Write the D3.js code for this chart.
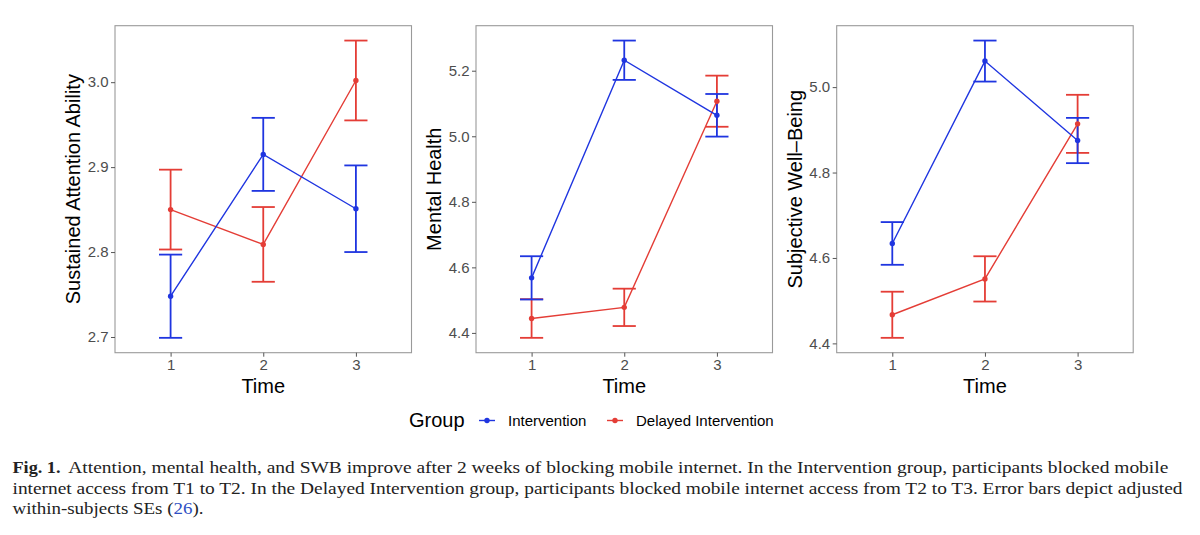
<!DOCTYPE html>
<html lang="en">
<head>
    <meta charset="UTF-8" />
    <title>Fig. 1. Attention, mental health, and SWB</title>
    <script src="https://d3js.org/d3.v7.min.js"></script>
    <style>
        body { margin: 0; background: #fff; }
    </style>
</head>
<body>
    <div id="container"></div>

    <script>
        // data (means and within-subject SEs)
        const times = [1, 2, 3]
        const groups = ["Intervention", "Delayed Intervention"]
        const panelTitles = ["Sustained Attention Ability", "Mental Health", "Subjective Well\u2013Being"]

        const attentionIntervention = [2.748, 2.915, 2.851]
        const attentionInterventionSE = [0.049, 0.043, 0.051]
        const attentionDelayed = [2.850, 2.809, 3.002]
        const attentionDelayedSE = [0.047, 0.044, 0.047]

        const mentalIntervention = [4.568, 5.232, 5.064]
        const mentalInterventionSE = [0.066, 0.060, 0.065]
        const mentalDelayed = [4.444, 4.478, 5.107]
        const mentalDelayedSE = [0.059, 0.057, 0.078]

        const swbIntervention = [4.634, 5.061, 4.875]
        const swbInterventionSE = [0.050, 0.048, 0.053]
        const swbDelayed = [4.467, 4.551, 4.914]
        const swbDelayedSE = [0.054, 0.053, 0.068]

        const attentionTicks = [2.7, 2.8, 2.9, 3.0]
        const mentalTicks = [4.4, 4.6, 4.8, 5.0, 5.2]
        const swbTicks = [4.4, 4.6, 4.8, 5.0]

        const captionLines = [
            "Attention, mental health, and SWB improve after 2 weeks of blocking mobile internet. In the Intervention group, participants blocked mobile",
            "internet access from T1 to T2. In the Delayed Intervention group, participants blocked mobile internet access from T2 to T3. Error bars depict adjusted"
        ]

        const colors = { "Intervention": "#1f35e0", "Delayed Intervention": "#e43d36" }

        const panels = [
            { title: panelTitles[0], ticks: attentionTicks,
              series: [{ g: groups[0], m: attentionIntervention, se: attentionInterventionSE },
                       { g: groups[1], m: attentionDelayed, se: attentionDelayedSE }] },
            { title: panelTitles[1], ticks: mentalTicks,
              series: [{ g: groups[0], m: mentalIntervention, se: mentalInterventionSE },
                       { g: groups[1], m: mentalDelayed, se: mentalDelayedSE }] },
            { title: panelTitles[2], ticks: swbTicks,
              series: [{ g: groups[0], m: swbIntervention, se: swbInterventionSE },
                       { g: groups[1], m: swbDelayed, se: swbDelayedSE }] }
        ]

        const width = 1200, height = 535
        const panelLefts = [115, 476, 836.7]
        const panelW = 296.5
        const plotTop = 25.7, plotBottom = 352.7
        const sans = "'Liberation Sans', Arial, Helvetica, sans-serif"

        const svg = d3.select("#container")
            .append("svg")
            .attr("width", width)
            .attr("height", height)
            .attr("viewBox", [0, 0, width, height])

        panels.forEach((panel, p) => {
            const left = panelLefts[p]

            const x = d3.scaleLinear()
                .domain([0.4, 3.6])
                .range([left, left + panelW])

            // ggplot-style 5% expansion around error bar extent
            const lo = d3.min(panel.series, s => d3.min(s.m, (v, i) => v - s.se[i]))
            const hi = d3.max(panel.series, s => d3.max(s.m, (v, i) => v + s.se[i]))
            const pad = (hi - lo) * 0.05
            const y = d3.scaleLinear()
                .domain([lo - pad, hi + pad])
                .range([plotBottom, plotTop])

            const g = svg.append("g")

            g.append("rect")
                .attr("x", left)
                .attr("y", plotTop)
                .attr("width", panelW)
                .attr("height", plotBottom - plotTop)
                .attr("fill", "none")
                .attr("stroke", "#9a9a9a")
                .attr("stroke-width", 1.1)

            const yAxis = g.append("g")
                .attr("transform", `translate(${left},0)`)
                .call(d3.axisLeft(y).tickValues(panel.ticks).tickFormat(d3.format(".1f")).tickSize(4).tickPadding(2.5))
            yAxis.select(".domain").remove()

            const xAxis = g.append("g")
                .attr("transform", `translate(0,${plotBottom})`)
                .call(d3.axisBottom(x).tickValues(times).tickFormat(d3.format("d")).tickSize(4).tickPadding(3))
            xAxis.select(".domain").remove()

            g.selectAll(".tick line").attr("stroke", "#555").attr("stroke-width", 1)
            g.selectAll(".tick text")
                .attr("fill", "#4d4d4d")
                .style("font-family", sans)
                .style("font-size", "15px")

            g.append("text")
                .attr("x", x(2))
                .attr("y", 392.5)
                .attr("text-anchor", "middle")
                .style("font-family", sans)
                .style("font-size", "20px")
                .text("Time")

            g.append("text")
                .attr("transform", `translate(${left - 35},${(plotTop + plotBottom) / 2}) rotate(-90)`)
                .attr("text-anchor", "middle")
                .style("font-family", sans)
                .style("font-size", "20px")
                .text(panel.title)

            const ordered = [panel.series[1], panel.series[0]]

            // error bars
            ordered.forEach(s => {
                const eb = g.append("g")
                    .attr("stroke", colors[s.g])
                    .attr("stroke-width", 1.8)
                    .attr("fill", "none")
                times.forEach((t, i) => {
                    const capW = 0.125
                    eb.append("line")
                        .attr("x1", x(t)).attr("x2", x(t))
                        .attr("y1", y(s.m[i] - s.se[i])).attr("y2", y(s.m[i] + s.se[i]))
                    eb.append("line")
                        .attr("x1", x(t - capW)).attr("x2", x(t + capW))
                        .attr("y1", y(s.m[i] + s.se[i])).attr("y2", y(s.m[i] + s.se[i]))
                    eb.append("line")
                        .attr("x1", x(t - capW)).attr("x2", x(t + capW))
                        .attr("y1", y(s.m[i] - s.se[i])).attr("y2", y(s.m[i] - s.se[i]))
                })
            })

            // lines
            ordered.forEach(s => {
                const line = d3.line()
                    .x((d, i) => x(times[i]))
                    .y(d => y(d))
                g.append("path")
                    .datum(s.m)
                    .attr("fill", "none")
                    .attr("stroke", colors[s.g])
                    .attr("stroke-width", 1.4)
                    .attr("d", line)
            })

            // points
            panel.series.forEach(s => {
                g.selectAll(null)
                    .data(s.m)
                    .enter()
                    .append("circle")
                    .attr("cx", (d, i) => x(times[i]))
                    .attr("cy", d => y(d))
                    .attr("r", 2.7)
                    .attr("fill", colors[s.g])
            })
        })

        // legend
        const legend = svg.append("g").style("font-family", sans)
        legend.append("text")
            .attr("x", 409)
            .attr("y", 427)
            .style("font-size", "20px")
            .text("Group")

        const keyX = [479, 607]
        groups.forEach((grp, i) => {
            legend.append("line")
                .attr("x1", keyX[i]).attr("x2", keyX[i] + 16)
                .attr("y1", 420.5).attr("y2", 420.5)
                .attr("stroke", colors[grp])
                .attr("stroke-width", 1.4)
            legend.append("circle")
                .attr("cx", keyX[i] + 8)
                .attr("cy", 420.5)
                .attr("r", 2.7)
                .attr("fill", colors[grp])
            legend.append("text")
                .attr("x", keyX[i] + 29)
                .attr("y", 426)
                .style("font-size", "15px")
                .text(grp)
        })

        // caption
        const serif = "'Liberation Serif', 'DejaVu Serif', serif"
        const cap = svg.append("g")
            .style("font-family", serif)
            .style("font-size", "16px")
            .attr("fill", "#222")

        cap.append("text")
            .attr("x", 12.5)
            .attr("y", 472.7)
            .style("font-weight", "bold")
            .attr("textLength", 48)
            .attr("lengthAdjust", "spacingAndGlyphs")
            .text("Fig. 1.")

        cap.append("text")
            .attr("x", 68.3)
            .attr("y", 472.7)
            .attr("textLength", 1100)
            .attr("lengthAdjust", "spacingAndGlyphs")
            .text(captionLines[0])

        cap.append("text")
            .attr("x", 12.5)
            .attr("y", 493.5)
            .attr("textLength", 1170)
            .attr("lengthAdjust", "spacingAndGlyphs")
            .text(captionLines[1])

        const last = cap.append("text")
            .attr("x", 12.5)
            .attr("y", 514.3)
            .attr("textLength", 191)
            .attr("lengthAdjust", "spacingAndGlyphs")
        last.append("tspan").text("within-subjects SEs (")
        last.append("tspan").attr("fill", "#2f4fc4").text("26")
        last.append("tspan").text(").")
    </script>
</body>
</html>
